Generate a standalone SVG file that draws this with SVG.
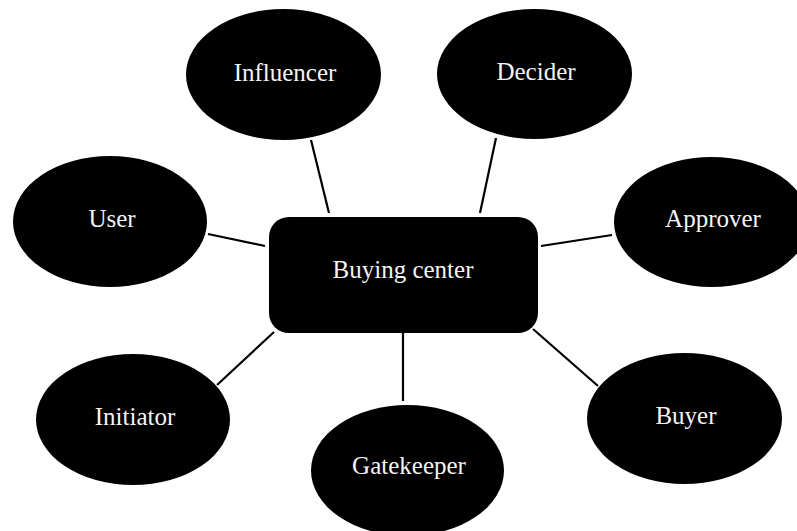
<svg xmlns="http://www.w3.org/2000/svg" width="797" height="531" viewBox="0 0 797 531">
<style>
.n{fill:#000;}
.t{fill:#f4f4f4;font-family:"Liberation Serif","Times New Roman",serif;font-size:25px;text-anchor:middle;}
.c line{stroke:#000;stroke-width:2.2;}
</style>
<rect width="797" height="531" fill="#fff"/>
<g class="c" id="connectors">
<line x1="311" y1="140" x2="329" y2="213"/>
<line x1="496" y1="138" x2="480" y2="213"/>
<line x1="208" y1="234" x2="265" y2="246"/>
<line x1="541" y1="246" x2="612" y2="235"/>
<line x1="274" y1="332" x2="217" y2="385"/>
<line x1="403" y1="333" x2="403" y2="401"/>
<line x1="533" y1="329" x2="598" y2="386"/>
</g>
<g id="buying-center"><rect class="n" x="269" y="217" width="269" height="116" rx="20"/><text class="t" x="403" y="278">Buying center</text></g>
<g id="influencer"><ellipse class="n" cx="283.5" cy="74.5" rx="97.5" ry="65.5"/><text class="t" x="285" y="81">Influencer</text></g>
<g id="decider"><ellipse class="n" cx="534.5" cy="74" rx="97.5" ry="65"/><text class="t" x="536" y="80">Decider</text></g>
<g id="user"><ellipse class="n" cx="110" cy="221.5" rx="97" ry="65.5"/><text class="t" x="112" y="227">User</text></g>
<g id="approver"><ellipse class="n" cx="711.5" cy="222" rx="97.5" ry="65"/><text class="t" x="713" y="227">Approver</text></g>
<g id="initiator"><ellipse class="n" cx="133" cy="419.5" rx="97" ry="65.5"/><text class="t" x="135" y="425">Initiator</text></g>
<g id="gatekeeper"><ellipse class="n" cx="407.5" cy="470.5" rx="96.5" ry="65.5"/><text class="t" x="409" y="474">Gatekeeper</text></g>
<g id="buyer"><ellipse class="n" cx="684.5" cy="418.5" rx="97.5" ry="65.5"/><text class="t" x="686" y="424">Buyer</text></g>
</svg>
